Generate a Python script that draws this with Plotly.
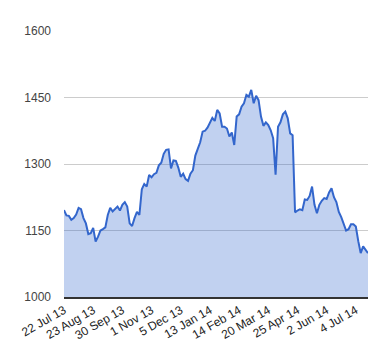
import plotly.graph_objects as go

# Values (roughly every 2 trading days)
values = [
    1196, 1184, 1183, 1174, 1178, 1186, 1201, 1198, 1178, 1166,
    1142, 1144, 1156, 1125, 1136, 1150, 1153, 1157, 1185, 1201,
    1193, 1198, 1204, 1195, 1208, 1214, 1204, 1166, 1160, 1178,
    1192, 1185, 1243, 1255, 1249, 1275, 1270, 1277, 1280, 1297,
    1303, 1323, 1332, 1333, 1290, 1308, 1307, 1292, 1271, 1278,
    1266, 1262, 1278, 1286, 1319, 1334, 1349, 1373, 1375, 1382,
    1395, 1404, 1397, 1422, 1414, 1384, 1384, 1380, 1362, 1371,
    1343, 1407, 1412, 1429, 1437, 1456, 1452, 1467, 1437, 1454,
    1444, 1407, 1386, 1394, 1388, 1376, 1358, 1276, 1384, 1394,
    1412, 1418, 1403, 1369, 1365, 1191, 1195, 1198, 1196, 1220,
    1219, 1228, 1249, 1208, 1189, 1208, 1217, 1223, 1221, 1236,
    1245, 1225, 1214, 1192, 1180, 1165, 1150, 1153, 1164, 1164,
    1159, 1126, 1099, 1114, 1106, 1099,
]
x_index = list(range(len(values)))

tick_positions = [0, 12, 24, 36, 48, 60, 72, 84, 96, 108, 120]
tick_labels = ["22 Jul 13", "23 Aug 13", "30 Sep 13", "1 Nov 13", "5 Dec 13",
               "13 Jan 14", "14 Feb 14", "20 Mar 14", "25 Apr 14", "2 Jun 14", "4 Jul 14"]
y_ticks = [1000, 1150, 1300, 1450, 1600]

fig = go.Figure()
fig.add_trace(go.Scatter(
    x=x_index, y=values, mode="lines",
    line=dict(color="#3366cc", width=2),
    fill="tozeroy", fillcolor="rgba(51,102,204,0.3)",
    hoverinfo="skip",
))

font_family = "Arial, Liberation Sans, sans-serif"
fig.update_layout(
    width=372, height=352,
    margin=dict(l=56, r=12, t=23, b=63, autoexpand=False),
    paper_bgcolor="white", plot_bgcolor="white",
    showlegend=False,
    font=dict(family=font_family, size=12, color="#444"),
)
fig.update_xaxes(
    range=[0, len(values) - 1],
    tickmode="array", tickvals=tick_positions, ticktext=tick_labels,
    tickangle=-30, tickfont=dict(size=12, color="#222"),
    showgrid=False, zeroline=False,
    showline=True, linecolor="#333", linewidth=1.5,
    ticks="", fixedrange=True, automargin=False,
)
fig.update_yaxes(
    range=[1000, 1600],
    tickmode="array", tickvals=y_ticks,
    tickfont=dict(size=12, color="#444"),
    showgrid=True, gridcolor="#cccccc", gridwidth=1,
    zeroline=False, showline=False, ticks="",
    ticklabelstandoff=12, fixedrange=True, automargin=False,
)

fig.write_html("out.html", config={"displayModeBar": False})
